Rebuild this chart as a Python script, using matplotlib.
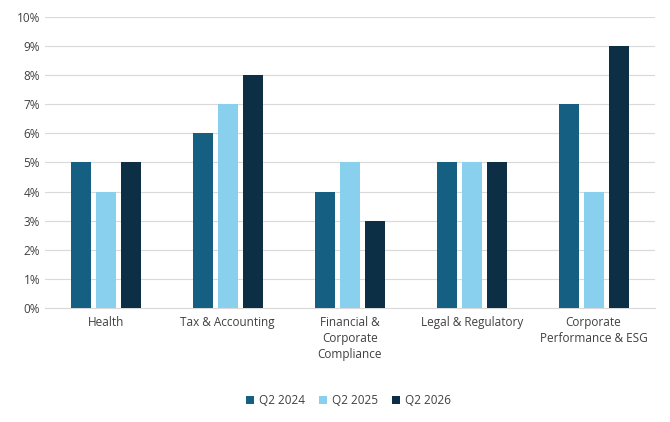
import numpy as np
import matplotlib
matplotlib.use("Agg")
from matplotlib import pyplot as plt
from matplotlib.ticker import PercentFormatter

categories = ["Health", "Tax & Accounting", "Financial &\nCorporate\nCompliance",
              "Legal & Regulatory", "Corporate\nPerformance & ESG"]
series = ["Q2 2024", "Q2 2025", "Q2 2026"]
q2_2024 = [5, 6, 4, 5, 7]
q2_2025 = [4, 7, 5, 5, 4]
q2_2026 = [5, 8, 3, 5, 9]
colors = ["#155f83", "#89cfee", "#0c2f45"]

plt.rcParams['font.family'] = ['Open Sans', 'DejaVu Sans']
fig = plt.figure(figsize=(6.7, 4.22), dpi=100)
ax = fig.add_axes([0.067, 0.27, 0.91, 0.69])

x = np.arange(len(categories))
w = 0.165
for i, (vals, name) in enumerate(zip([q2_2024, q2_2025, q2_2026], series)):
    ax.bar(x + (i - 1) * 0.205, vals, w, color=colors[i], label=name, zorder=3)

ax.set_ylim(0, 10)
ax.set_yticks(range(0, 11))
ax.yaxis.set_major_formatter(PercentFormatter(decimals=0))
ax.set_xlim(-0.5, len(categories) - 0.5)
ax.set_xticks(x)
ax.set_xticklabels(categories, fontsize=8.5, color="#404040", linespacing=1.3)
ax.tick_params(axis='y', labelsize=8.5, colors="#404040", length=0)
ax.tick_params(axis='x', length=0, pad=6)
ax.grid(axis='y', color="#d9d9d9", linewidth=0.8, zorder=0)
for s in ["top", "right", "left"]:
    ax.spines[s].set_visible(False)
ax.spines["bottom"].set_color("#d9d9d9")

fig.legend(loc="lower center", bbox_to_anchor=(0.52, 0.01), ncol=3, frameon=False,
           fontsize=8.5, handlelength=0.7, handleheight=0.7, columnspacing=1.2,
           handletextpad=0.4, labelcolor="#404040")
fig.savefig("out.png", dpi=100)
